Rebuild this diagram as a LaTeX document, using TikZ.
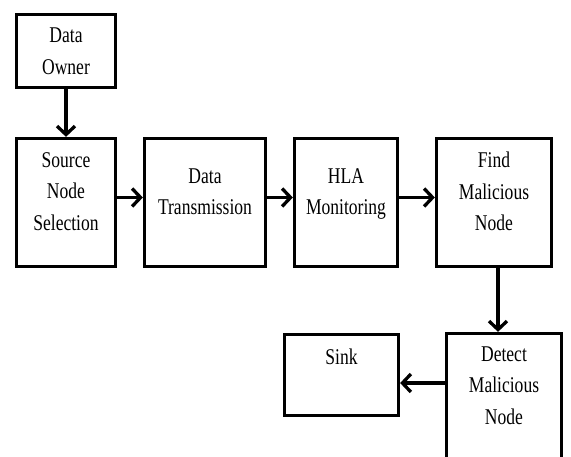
\documentclass[tikz,border=0pt]{standalone}
\usepackage{fontspec}
\setmainfont{Liberation Serif}[FakeStretch=0.78]
\usetikzlibrary{arrows.meta,positioning}

\begin{document}
\begin{tikzpicture}[x=1pt, y=1pt, node distance=140pt, on grid,
block/.style={draw, line width=3.3pt, align=center, inner sep=2pt, font=\fontsize{22.5}{31.5}\selectfont},
stage/.style={block, minimum height=128pt, text depth=22pt},
flow/.style={-{Straight Barb[length=8.5pt,width=18pt]}, line width=3.3pt}]
\useasboundingbox (0,0) rectangle (571,456);
\node [stage, minimum width=99pt] (src) at (66,253.5) {Source\\Node\\Selection};
\node [block, minimum width=99pt, minimum height=73pt] (own) [above=151.5pt of src] {Data\\Owner};
\node [stage, minimum width=121pt] (trans) [right=139pt of src] {Data\\Transmission};
\node [stage, minimum width=103pt] (hla) [right=141pt of trans] {HLA\\Monitoring};
\node [stage, minimum width=115pt] (find) [right=148pt of hla] {Find\\Malicious\\Node};
\node [stage, minimum width=115pt, text depth=24pt] (detect) [below right=195pt and 10pt of find] {Detect\\Malicious\\Node};
\node [block, minimum width=114pt, minimum height=81pt, text depth=36pt] (sink) [above left=22.5pt and 162.5pt of detect] {Sink};
\draw [flow] (own) -- (src);
\draw [flow] ([yshift=5pt]src.east) -- ([yshift=5pt]trans.west);
\draw [flow] ([yshift=5pt]trans.east) -- ([yshift=5pt]hla.west);
\draw [flow] ([yshift=5pt]hla.east) -- ([yshift=5pt]find.west);
\draw [flow] ([xshift=4pt]find.south) -- ([xshift=4pt]find.south |- detect.north);
\draw [flow] ([yshift=14.5pt]detect.west) -- ([yshift=14.5pt]detect.west -| sink.east);
\end{tikzpicture}
\end{document}
